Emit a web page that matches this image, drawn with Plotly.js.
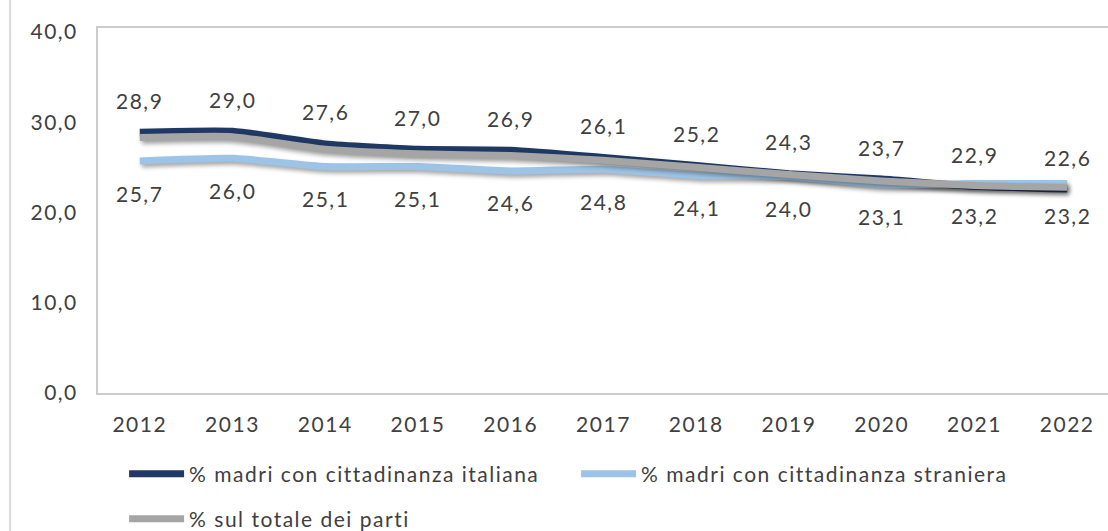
<!DOCTYPE html>
<html>
<head>
<meta charset="utf-8">
<script src="https://cdn.plot.ly/plotly-3.0.1.min.js"></script>
<style>
    html, body { margin: 0; padding: 0; background: #fff; }
    #chart { width: 1108px; height: 531px; }
    #chart text { letter-spacing: 1.5px; }
    /* soft drop shadow under the thick lines */
    #chart .scatterlayer .js-line { filter: drop-shadow(2px 3px 2px rgba(0, 0, 0, 0.35)); }
</style>
</head>
<body>
<div id="chart"></div>
<script>
// Data
const years = [2012, 2013, 2014, 2015, 2016, 2017, 2018, 2019, 2020, 2021, 2022];
const italiana = [28.9, 29.0, 27.6, 27.0, 26.9, 26.1, 25.2, 24.3, 23.7, 22.9, 22.6];
const straniera = [25.7, 26.0, 25.1, 25.1, 24.6, 24.8, 24.1, 24.0, 23.1, 23.2, 23.2];
const totale = [28.3, 28.4, 27.0, 26.5, 26.3, 25.8, 25.0, 24.2, 23.5, 23.0, 22.8];
const yTicks = [0, 10, 20, 30, 40];

const fmt = v => v.toFixed(1).replace('.', ',');

function lineTrace(name, y, color, legend) {
    return {
        x: years,
        y: y,
        name: name,
        legend: legend,
        type: 'scatter',
        mode: 'lines',
        line: { color: color, width: 7, shape: 'spline', smoothing: 0.5 },
        hoverinfo: 'skip'
    };
}

const traces = [
    lineTrace('% madri con cittadinanza italiana', italiana, '#1f3864', 'legend'),
    lineTrace('% madri con cittadinanza straniera', straniera, '#9dc3e6', 'legend'),
    lineTrace('% sul totale dei parti', totale, '#a5a5a5', 'legend2')
];

// value labels: italiana above, straniera below
const annotations = [];
years.forEach((yr, i) => {
    annotations.push({ x: yr, y: italiana[i], xref: 'x', yref: 'y', text: fmt(italiana[i]),
        showarrow: false, yshift: 32, font: { size: 21, color: '#404040' } });
    annotations.push({ x: yr, y: straniera[i], xref: 'x', yref: 'y', text: fmt(straniera[i]),
        showarrow: false, yshift: -32, font: { size: 21, color: '#404040' } });
});

const legendBase = {
    orientation: 'h',
    xref: 'container',
    yref: 'container',
    x: 0.112,
    xanchor: 'left',
    yanchor: 'middle',
    itemwidth: 55,
    entrywidth: 382,
    borderwidth: 0,
    font: { size: 21, color: '#404040' }
};

const layout = {
    width: 1108,
    height: 531,
    margin: { l: 98, r: 0, t: 28, b: 138 },
    paper_bgcolor: '#ffffff',
    plot_bgcolor: '#ffffff',
    font: { family: 'Lato, "Open Sans", sans-serif', size: 21, color: '#404040' },
    showlegend: true,
    legend: Object.assign({}, legendBase, { y: 1 - 474 / 531 }),
    legend2: Object.assign({}, legendBase, { y: 1 - 519 / 531 }),
    xaxis: {
        range: [2011.55, 2022.44],
        tickvals: years,
        ticktext: years.map(String),
        showgrid: false,
        zeroline: false,
        showline: true,
        mirror: true,
        linecolor: '#cccccc',
        linewidth: 2,
        ticks: '',
        ticklabelstandoff: 12,
        automargin: false,
        fixedrange: true
    },
    yaxis: {
        range: [0, 40.44],
        tickvals: yTicks,
        ticktext: yTicks.map(fmt),
        showgrid: false,
        zeroline: false,
        showline: true,
        linecolor: '#cccccc',
        linewidth: 2,
        ticks: '',
        ticklabelstandoff: 14,
        automargin: false,
        fixedrange: true
    },
    annotations: annotations,
    shapes: [{
        type: 'line', xref: 'paper', yref: 'paper',
        x0: -0.087, x1: -0.087, y0: -0.38, y1: 1.08,
        line: { color: '#d9d9d9', width: 2 }
    }]
};

Plotly.newPlot('chart', traces, layout, { displayModeBar: false, staticPlot: true });
</script>
</body>
</html>
